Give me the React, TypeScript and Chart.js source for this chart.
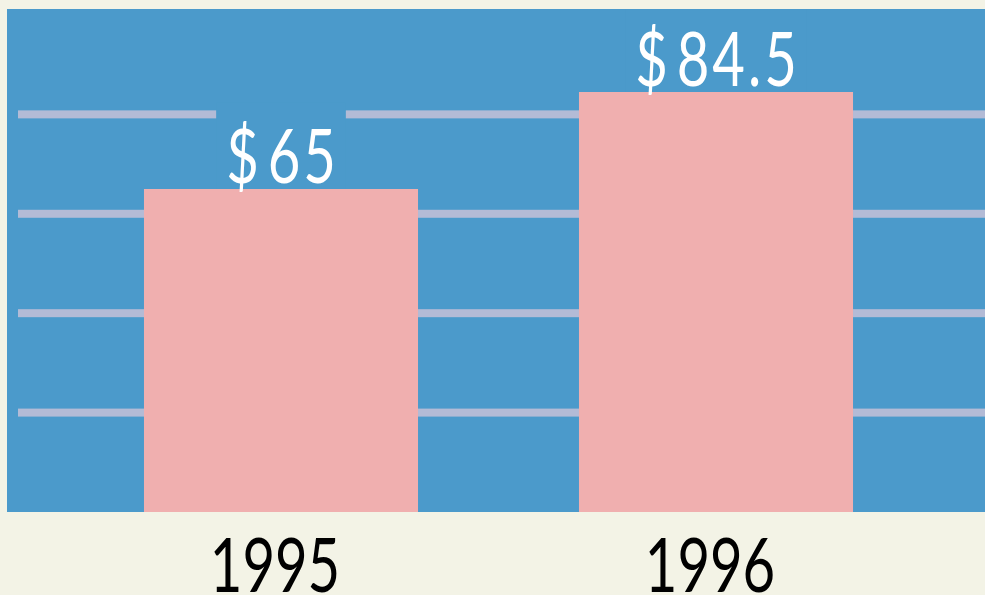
import React, { useEffect, useRef } from "react";
import { Chart, registerables } from "chart.js";

Chart.register(...registerables);

const categories = ["1995", "1996"];
const values = [65, 84.5];
const gridValues = [20, 40, 60, 80];

const CREAM = "#f3f3e6";
const BLUE = "#4b9acb";
const PINK = "#f0afaf";
const GRID = "#b3bbd6";
const FONT = "400 76px Lato, 'DejaVu Sans', sans-serif";
const SX = 0.74;

function drawSquished(ctx: any, parts: string[], gaps: number[], cx: number, baseY: number) {
  const widths = parts.map((p) => ctx.measureText(p).width);
  let total = widths.reduce((a, b) => a + b, 0);
  for (let i = 0; i < parts.length - 1; i++) total += gaps[i] ?? 0;
  ctx.save();
  ctx.translate(cx, baseY);
  ctx.scale(SX, 1);
  ctx.textAlign = "left";
  ctx.textBaseline = "alphabetic";
  let x = -total / 2;
  parts.forEach((p, i) => {
    ctx.fillText(p, x, 0);
    x += widths[i] + (gaps[i] ?? 0);
  });
  ctx.restore();
  return total * SX;
}

const backgroundPlugin = {
  id: "bgPlugin",
  beforeDraw(chart: any) {
    const { ctx, chartArea, width } = chart;
    ctx.save();
    ctx.fillStyle = CREAM;
    ctx.fillRect(0, 0, width, chart.height);
    ctx.fillStyle = BLUE;
    ctx.fillRect(7, chartArea.top, width - 7, chartArea.bottom - chartArea.top);
    const y = chart.scales.y;
    ctx.fillStyle = GRID;
    gridValues.forEach((v) => {
      const py = y.getPixelForValue(v);
      ctx.fillRect(18, py - 4, width - 18, 8);
    });
    ctx.restore();
  },
};

const labelPlugin = {
  id: "labels",
  afterDatasetsDraw(chart: any) {
    const { ctx, chartArea } = chart;
    const meta = chart.getDatasetMeta(0);
    ctx.save();
    ctx.font = FONT;
    meta.data.forEach((bar: any, i: number) => {
      const chars = ["$", ...String(values[i]).split("")];
      const gaps = chars.map((_, k) => (k === 0 ? 12 : 4));
      let w = chars.reduce((a, c) => a + ctx.measureText(c).width, 0);
      for (let k = 0; k < chars.length - 1; k++) w += gaps[k];
      const wTotal = w * SX;
      const baseY = bar.y - 6;
      const boxTop = Math.max(chartArea.top, baseY - 80);
      ctx.fillStyle = BLUE;
      ctx.fillRect(bar.x - wTotal / 2 - 10, boxTop, wTotal + 20, bar.y - boxTop);
      ctx.fillStyle = "#ffffff";
      drawSquished(ctx, chars, gaps, bar.x, baseY);
    });
    const xs = chart.scales.x;
    ctx.fillStyle = "#000000";
    xs.ticks.forEach((t: any, i: number) => {
      const px = xs.getPixelForTick(i);
      drawSquished(ctx, [String(categories[t.value] ?? t.label)], [], px - 6, chartArea.bottom + 80);
    });
    ctx.restore();
  },
};

export default function App() {
  const ref = useRef<HTMLCanvasElement | null>(null);

  useEffect(() => {
    document.body.style.margin = "0";
    document.body.style.background = CREAM;
    const chart = new Chart(ref.current as HTMLCanvasElement, {
      type: "bar",
      data: {
        labels: categories,
        datasets: [
          {
            data: values,
            backgroundColor: PINK,
            borderWidth: 0,
            categoryPercentage: 1,
            barPercentage: 0.63,
          },
        ],
      },
      options: {
        animation: false,
        responsive: false,
        maintainAspectRatio: false,
        layout: { padding: { left: 63.5, top: 9, right: 51.5, bottom: 0 } },
        plugins: { legend: { display: false }, tooltip: { enabled: false } },
        scales: {
          x: {
            type: "category",
            offset: true,
            grid: { display: false, drawTicks: false },
            border: { display: false },
            afterFit: (scale: any) => {
              scale.height = 83;
            },
            ticks: { display: false },
          },
          y: {
            min: 0,
            max: 101.2,
            afterFit: (scale: any) => {
              scale.width = 0;
            },
            grid: { display: false, drawTicks: false },
            border: { display: false },
            ticks: { display: false },
          },
        },
      },
      plugins: [backgroundPlugin, labelPlugin],
    } as any);
    return () => chart.destroy();
  }, []);

  return (
    <div style={{ width: 985, height: 595 }}>
      <canvas ref={ref} width={985} height={595} style={{ display: "block" }} />
    </div>
  );
}
